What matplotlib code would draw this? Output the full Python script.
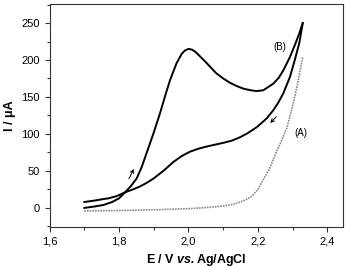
import matplotlib
matplotlib.use("Agg")
import matplotlib.pyplot as plt
from matplotlib.ticker import MultipleLocator, FuncFormatter

plt.rcParams['font.family'] = ['Liberation Sans', 'DejaVu Sans']
plt.rcParams['mathtext.fontset'] = 'custom'
plt.rcParams['mathtext.rm'] = 'Liberation Sans'
plt.rcParams['mathtext.bf'] = 'Liberation Sans:bold'
plt.rcParams['mathtext.it'] = 'Liberation Sans:italic'
plt.rcParams['mathtext.bfit'] = 'Liberation Sans:italic:bold'

# Curve B, forward (anodic) scan
E_fwd = [1.70, 1.73, 1.755, 1.78, 1.80, 1.817, 1.835, 1.851, 1.865, 1.88, 1.90, 1.918,
         1.935, 1.947, 1.966, 1.98, 1.99, 2.00, 2.01, 2.02, 2.033, 2.048, 2.062, 2.08, 2.10,
         2.12, 2.14, 2.16, 2.18, 2.196, 2.215, 2.244, 2.26, 2.273, 2.292, 2.306,
         2.319, 2.329]
I_fwd = [0, 2, 4, 8, 13, 21, 30, 40, 55, 75, 102, 128,
         155, 173, 196, 208, 213, 215, 214, 211, 205, 198, 191, 182, 175,
         169, 164.5, 161, 159, 158, 159, 168, 176, 186, 204, 220,
         236, 250]

# Curve B, reverse scan
E_rev = [2.329, 2.319, 2.306, 2.292, 2.273, 2.258, 2.244, 2.225, 2.196, 2.17, 2.148,
         2.125, 2.10, 2.076, 2.052, 2.028, 2.004, 1.98, 1.956, 1.93, 1.90, 1.88, 1.86,
         1.84, 1.817, 1.793, 1.77, 1.755, 1.73, 1.70]
I_rev = [250, 223, 200, 177, 155, 142, 132, 121, 109, 101, 95.5,
         91, 88, 85.5, 83, 80, 76, 70, 62, 51, 40, 34, 29,
         25, 21, 16, 13, 12, 10, 8]

# Curve A (dotted)
E_A = [1.70, 1.80, 1.90, 2.00, 2.05, 2.10, 2.13, 2.16, 2.18, 2.20, 2.215, 2.23,
       2.244, 2.255, 2.267, 2.283, 2.30, 2.315, 2.329]
I_A = [-4, -3.5, -2.5, -1, 0.5, 2.5, 5, 10, 15, 25, 38, 50,
       65, 78, 90, 108, 138, 170, 204]

fig = plt.figure(figsize=(3.49, 2.67), dpi=100)
ax = fig.add_axes([0.142, 0.150, 0.841, 0.835])

ax.plot(E_fwd, I_fwd, color='black', lw=1.4)
ax.plot(E_rev, I_rev, color='black', lw=1.4)
ax.plot(E_A, I_A, color='#8a8a8a', lw=1.2, linestyle=(0, (1, 0.6)))

ax.annotate('', xy=(1.846, 56), xytext=(1.825, 36),
            arrowprops=dict(arrowstyle='->', color='black', lw=0.7, mutation_scale=6))
ax.annotate('', xy=(2.230, 112), xytext=(2.258, 126),
            arrowprops=dict(arrowstyle='->', color='black', lw=0.7, mutation_scale=6))

ax.text(2.263, 217, '(B)', fontsize=7, ha='center', va='center')
ax.text(2.324, 101, '(A)', fontsize=7, ha='center', va='center')

ax.set_xlim(1.6, 2.445)
ax.set_ylim(-25.7, 275.7)
ax.xaxis.set_major_locator(MultipleLocator(0.2))
ax.xaxis.set_minor_locator(MultipleLocator(0.1))
ax.yaxis.set_major_locator(MultipleLocator(50))
ax.yaxis.set_minor_locator(MultipleLocator(25))
ax.xaxis.set_major_formatter(FuncFormatter(lambda v, p: f"{v:.1f}".replace('.', ',')))
ax.tick_params(which='both', direction='out', top=False, right=False, labelsize=8, width=0.8, color='#333333')
ax.tick_params(which='major', length=3.5)
ax.tick_params(which='minor', length=2)
for s in ax.spines.values():
    s.set_linewidth(0.8)
    s.set_color('#333333')

ax.set_xlabel(r'E / V $\bfit{vs.}$Ag/AgCl', fontsize=9, fontweight='bold', labelpad=4)
ax.set_ylabel('I / μA', fontsize=9, fontweight='bold', labelpad=4)

fig.savefig('out.png', dpi=100)
